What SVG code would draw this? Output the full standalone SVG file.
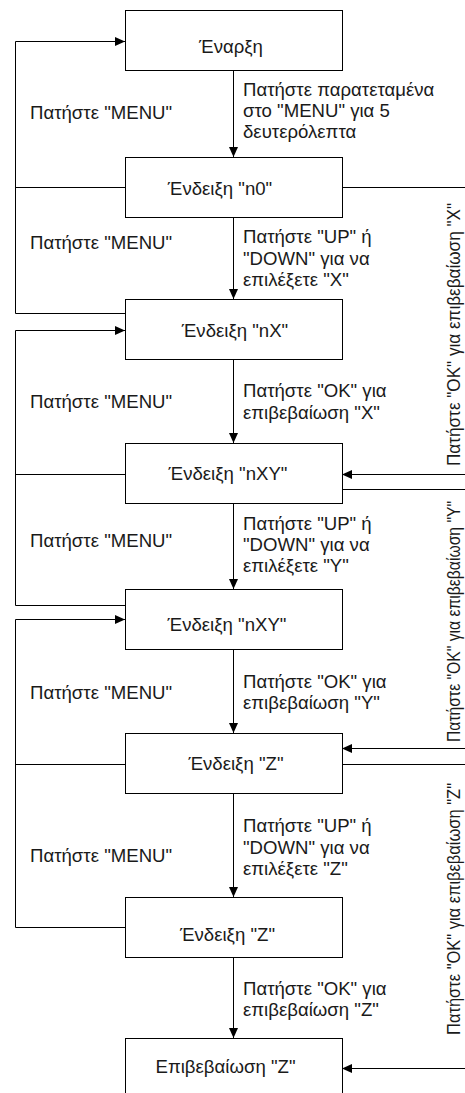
<svg xmlns="http://www.w3.org/2000/svg" width="465" height="1093" viewBox="0 0 465 1093">
<defs>
<marker id="arr" viewBox="0 0 10 9" refX="10" refY="4.5" markerWidth="10" markerHeight="9" orient="auto" markerUnits="userSpaceOnUse">
<path d="M0,0 L10,4.5 L0,9 z" fill="#000"/>
</marker>
</defs>
<style>
.box{fill:#fff;stroke:#000;stroke-width:1}
.t{font-family:"Liberation Sans",Arial,sans-serif;font-size:18.6px;fill:#1a1a1a}
.c{text-anchor:middle}
.ln{fill:none;stroke:#000;stroke-width:1}
.a{marker-end:url(#arr)}
</style>
<rect width="465" height="1093" fill="#fff"/>
<g id="connectors">
<path class="ln a" d="M125,313.5 H15.5 V41.5 H125"/>
<path class="ln" d="M125,187.5 H15.5"/>
<path class="ln a" d="M125,605.5 H15.5 V330.5 H125"/>
<path class="ln" d="M125,474.5 H15.5"/>
<path class="ln a" d="M125,927.5 H15.5 V619.5 H125"/>
<path class="ln" d="M125,764.5 H15.5"/>
<path class="ln a" d="M342,187.5 H490 V474.5 H342"/>
<path class="ln a" d="M342,489.5 H490 V748.5 H342"/>
<path class="ln a" d="M342,764.5 H490 V1068.5 H342"/>
<path class="ln a" d="M233.5,70 V157"/>
<path class="ln a" d="M233.5,217 V299"/>
<path class="ln a" d="M233.5,359 V443"/>
<path class="ln a" d="M233.5,503 V589"/>
<path class="ln a" d="M233.5,649 V733"/>
<path class="ln a" d="M233.5,794 V897"/>
<path class="ln a" d="M233.5,957 V1038"/>
<g class="t">
<text x="30" y="119">Πατήστε "MENU"</text>
<text x="30" y="249">Πατήστε "MENU"</text>
<text x="30" y="408">Πατήστε "MENU"</text>
<text x="30" y="547">Πατήστε "MENU"</text>
<text x="30" y="699">Πατήστε "MENU"</text>
<text x="30" y="862">Πατήστε "MENU"</text>
<text x="243" y="95.5">Πατήστε παρατεταμένα</text>
<text x="243" y="116.5">στο "MENU" για 5</text>
<text x="243" y="137.5">δευτερόλεπτα</text>
<text x="243" y="243">Πατήστε "UP" ή</text>
<text x="243" y="264.5">"DOWN" για να</text>
<text x="243" y="286">επιλέξετε "X"</text>
<text x="243" y="397">Πατήστε "OK" για</text>
<text x="243" y="418.5">επιβεβαίωση "X"</text>
<text x="243" y="530">Πατήστε "UP" ή</text>
<text x="243" y="551">"DOWN" για να</text>
<text x="243" y="572">επιλέξετε "Y"</text>
<text x="243" y="688">Πατήστε "OK" για</text>
<text x="243" y="709">επιβεβαίωση "Y"</text>
<text x="243" y="832">Πατήστε "UP" ή</text>
<text x="243" y="853.5">"DOWN" για να</text>
<text x="243" y="875">επιλέξετε "Z"</text>
<text x="243" y="995">Πατήστε "OK" για</text>
<text x="243" y="1016">επιβεβαίωση "Z"</text>
<text transform="translate(459.5,466) rotate(-90)" textLength="263" lengthAdjust="spacingAndGlyphs">Πατήστε "OK" για επιβεβαίωση "X"</text>
<text transform="translate(459.5,742) rotate(-90)" textLength="241" lengthAdjust="spacingAndGlyphs">Πατήστε "OK" για επιβεβαίωση "Y"</text>
<text transform="translate(459.5,1035) rotate(-90)" textLength="252" lengthAdjust="spacingAndGlyphs">Πατήστε "OK" για επιβεβαίωση "Z"</text>
</g>
</g>
<g id="n1"><rect class="box" x="125.5" y="10.5" width="217" height="60"/><text class="t c" x="231" y="53">Έναρξη</text></g>
<g id="n2"><rect class="box" x="125.5" y="157.5" width="217" height="60"/><text class="t c" x="220" y="194.5">Ένδειξη "n0"</text></g>
<g id="n3"><rect class="box" x="125.5" y="299.5" width="217" height="60"/><text class="t c" x="235" y="337">Ένδειξη "nX"</text></g>
<g id="n4"><rect class="box" x="125.5" y="443.5" width="217" height="60"/><text class="t c" x="228" y="480">Ένδειξη "nXY"</text></g>
<g id="n5"><rect class="box" x="125.5" y="589.5" width="217" height="60"/><text class="t c" x="227" y="631">Ένδειξη "nXY"</text></g>
<g id="n6"><rect class="box" x="125.5" y="733.5" width="217" height="60"/><text class="t c" x="236" y="770">Ένδειξη "Z"</text></g>
<g id="n7"><rect class="box" x="125.5" y="897.5" width="217" height="60"/><text class="t c" x="227.5" y="941">Ένδειξη "Z"</text></g>
<g id="n8"><rect class="box" x="125.5" y="1038.5" width="217" height="60"/><text class="t c" x="225.5" y="1073">Επιβεβαίωση "Z"</text></g>
</svg>
